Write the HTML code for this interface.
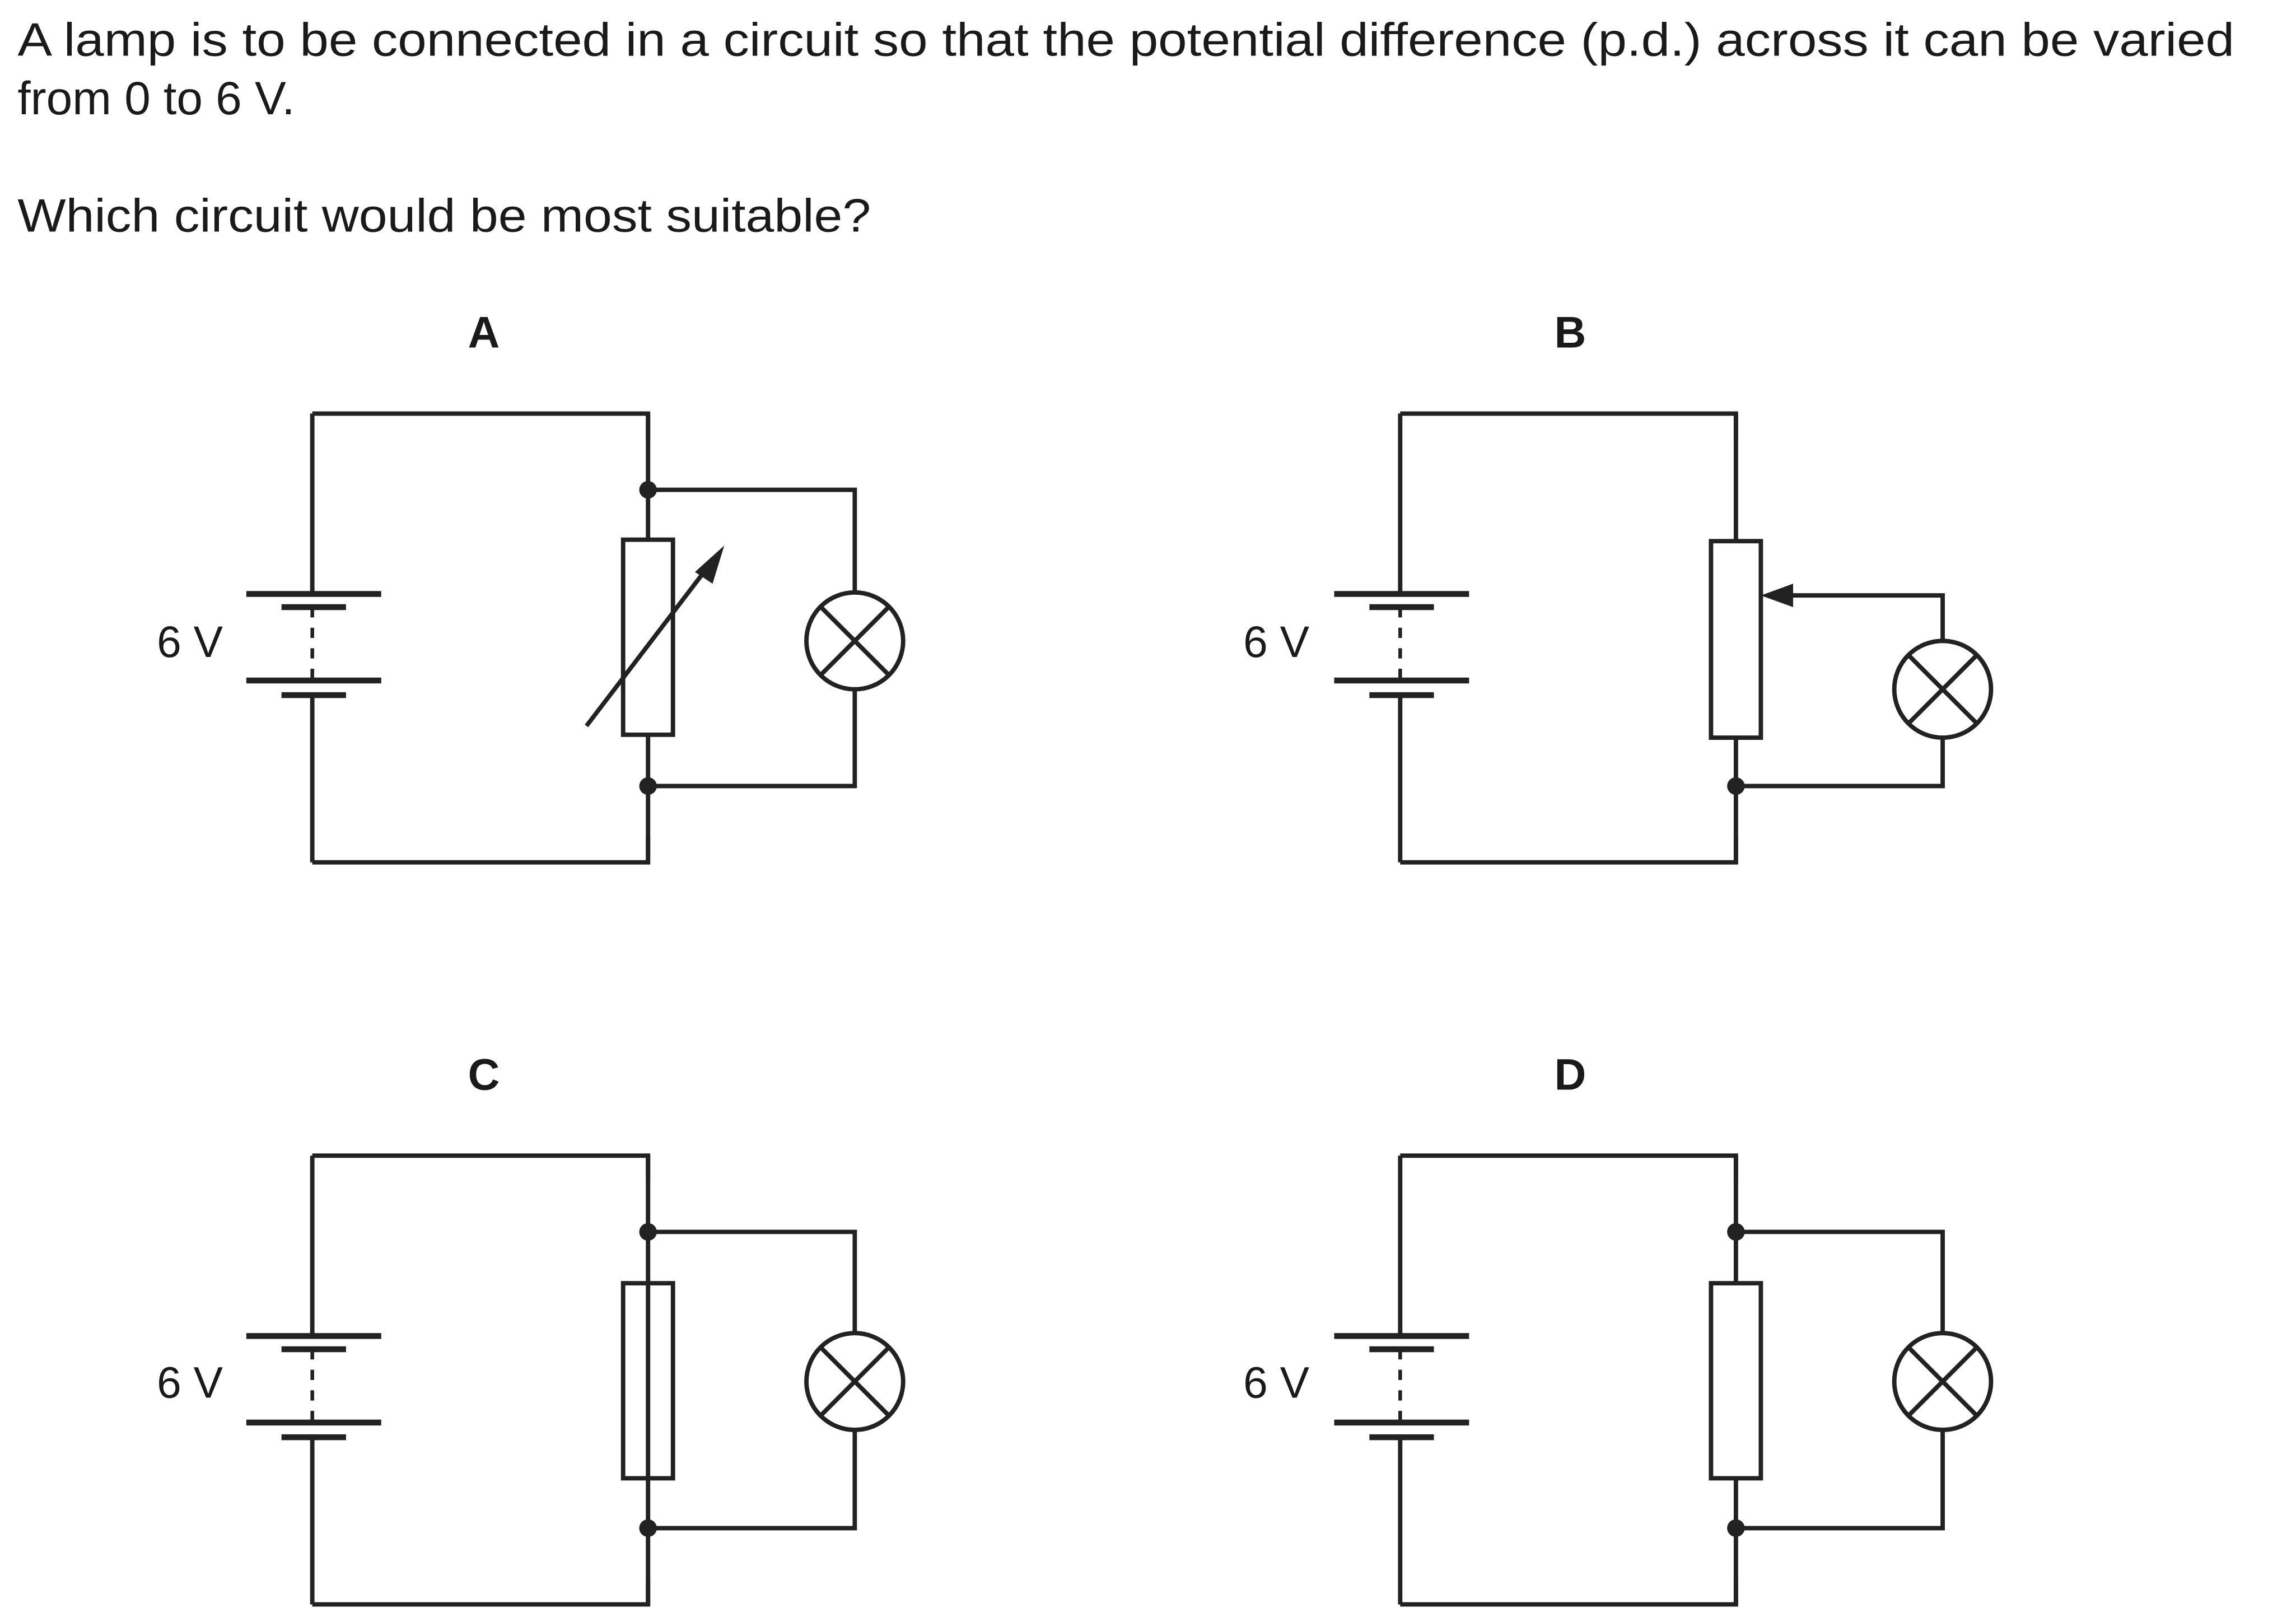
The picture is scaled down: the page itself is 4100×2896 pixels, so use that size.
<!DOCTYPE html>
<html><head><meta charset="utf-8"><style>
html,body{margin:0;padding:0;background:#fff;}
svg{display:block;}
text{font-family:"Liberation Sans",Arial,sans-serif;fill:#1a1a1a;}
</style></head><body>
<svg width="4100" height="2896" viewBox="0 0 1566 1106" preserveAspectRatio="none" xmlns="http://www.w3.org/2000/svg">
<text x="12" y="38" font-size="32" textLength="1512" lengthAdjust="spacingAndGlyphs">A lamp is to be connected in a circuit so that the potential difference (p.d.) across it can be varied</text>
<text x="12" y="78" font-size="32">from 0 to 6 V.</text>
<text x="12" y="158" font-size="32" textLength="582" lengthAdjust="spacingAndGlyphs">Which circuit would be most suitable?</text>
<g font-weight="bold" font-size="30" text-anchor="middle">
<text x="330" y="237">A</text><text x="1071" y="237">B</text>
<text x="330" y="743">C</text><text x="1071" y="743">D</text>
</g>
<defs>
<g id="batt" stroke="#222" fill="none">
<line x1="213" y1="282" x2="213" y2="405" stroke-width="3"/>
<line x1="168" y1="405" x2="260" y2="405" stroke-width="4"/>
<line x1="192" y1="414" x2="236" y2="414" stroke-width="4"/>
<line x1="213" y1="414" x2="213" y2="464" stroke-width="2.5" stroke-dasharray="7,7"/>
<line x1="168" y1="464" x2="260" y2="464" stroke-width="4"/>
<line x1="192" y1="474" x2="236" y2="474" stroke-width="4"/>
<line x1="213" y1="474" x2="213" y2="588" stroke-width="3"/>
<polyline points="213,282 442,282 442,300" stroke-width="3"/>
<polyline points="213,588 442,588 442,570" stroke-width="3"/>
</g>
<g id="lamp" stroke="#222" stroke-width="3" fill="none">
<circle cx="0" cy="0" r="33"/>
<line x1="-23" y1="-23" x2="23" y2="23"/><line x1="-23" y1="23" x2="23" y2="-23"/>
</g>
</defs>
<g font-size="30">
<text x="107" y="448">6 V</text><text x="848" y="448">6 V</text>
<text x="107" y="953">6 V</text><text x="848" y="953">6 V</text>
</g>
<!-- A -->
<g>
<use href="#batt"/>
<g stroke="#222" stroke-width="3" fill="none">
<line x1="442" y1="282" x2="442" y2="368"/>
<rect x="425" y="368" width="34" height="133"/>
<line x1="442" y1="501" x2="442" y2="588"/>
<polyline points="442,334 583,334 583,404"/>
<polyline points="442,536 583,536 583,470"/>
<line x1="400" y1="495" x2="484" y2="385"/>
</g>
<polygon points="494,372 474,390 486,398" fill="#222"/>
<circle cx="442" cy="334" r="6" fill="#222"/><circle cx="442" cy="536" r="6" fill="#222"/>
<use href="#lamp" x="583" y="437"/>
</g>
<!-- B -->
<g transform="translate(742,0)">
<use href="#batt"/>
<g stroke="#222" stroke-width="3" fill="none">
<line x1="442" y1="282" x2="442" y2="369"/>
<rect x="425" y="369" width="34" height="134"/>
<line x1="442" y1="503" x2="442" y2="588"/>
<polyline points="480,406 583,406 583,437"/>
<polyline points="442,536 583,536 583,503"/>
</g>
<polygon points="459,406 481,398 481,414" fill="#222"/>
<circle cx="442" cy="536" r="6" fill="#222"/>
<use href="#lamp" x="583" y="470"/>
</g>
<!-- C -->
<g transform="translate(0,506)">
<use href="#batt"/>
<g stroke="#222" stroke-width="3" fill="none">
<line x1="442" y1="282" x2="442" y2="588"/>
<rect x="425" y="369" width="34" height="133"/>
<polyline points="442,334 583,334 583,403"/>
<polyline points="442,536 583,536 583,469"/>
</g>
<circle cx="442" cy="334" r="6" fill="#222"/><circle cx="442" cy="536" r="6" fill="#222"/>
<use href="#lamp" x="583" y="436"/>
</g>
<!-- D -->
<g transform="translate(742,506)">
<use href="#batt"/>
<g stroke="#222" stroke-width="3" fill="none">
<line x1="442" y1="282" x2="442" y2="369"/>
<rect x="425" y="369" width="34" height="133"/>
<line x1="442" y1="502" x2="442" y2="588"/>
<polyline points="442,334 583,334 583,403"/>
<polyline points="442,536 583,536 583,469"/>
</g>
<circle cx="442" cy="334" r="6" fill="#222"/><circle cx="442" cy="536" r="6" fill="#222"/>
<use href="#lamp" x="583" y="436"/>
</g>
</svg>
</body></html>
